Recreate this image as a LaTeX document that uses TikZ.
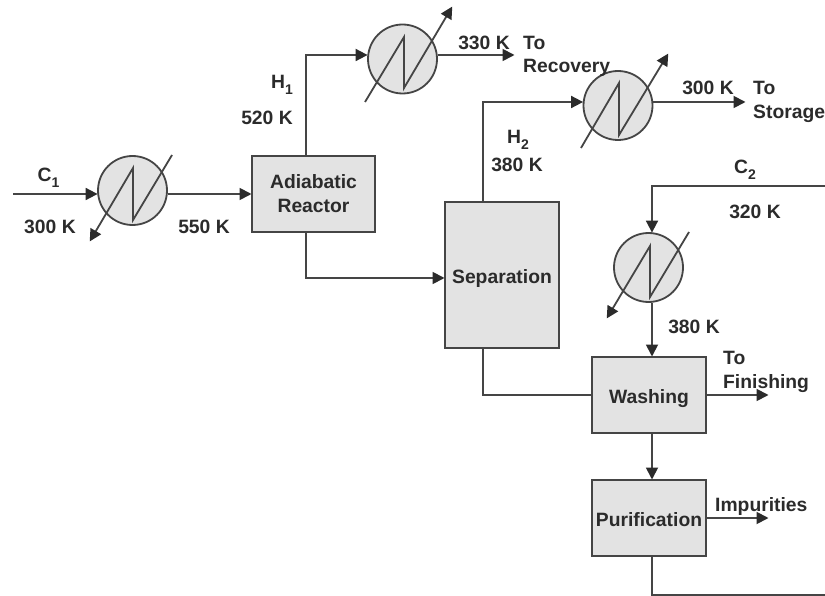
\documentclass[tikz,border=0pt]{standalone}
\usepackage{fontspec}
\setmainfont{Liberation Sans}
\usetikzlibrary{arrows.meta}
\definecolor{ink}{HTML}{2B2B2B}
\definecolor{wire}{HTML}{454545}
\definecolor{panel}{HTML}{E3E3E3}
\newcommand{\sbs}[1]{\raisebox{-5.5pt}{\fontsize{14}{15}\selectfont #1}}
\tikzset{
  wireline/.style={draw=wire,line width=1.8pt,line join=miter},
  flow/.style={wireline,-{Triangle[length=12pt,width=12pt,color=ink]},shorten >=-0.5pt},
  unitbox/.style={draw=wire,fill=panel,line width=2pt,inner sep=0pt,font=\fontsize{19.3}{24}\selectfont\bfseries,text=ink,align=center},
  hxshell/.style={circle,draw=wire,fill=panel,line width=1.8pt,minimum size=69pt,inner sep=0pt},
  lab/.style={inner sep=0pt,font=\fontsize{19.3}{23}\selectfont\bfseries,text=ink,text height=13.5pt,text depth=0pt},
}
\begin{document}
\begin{tikzpicture}[x=1pt,y=-1pt]
\useasboundingbox (0,0) rectangle (825,596);
\fill[white] (0,0) rectangle (825,596);
% units
\node[unitbox,minimum width=123pt,minimum height=76pt] (reactor) at (313.5,194) {Adiabatic\\Reactor};
\node[unitbox,minimum width=114pt,minimum height=146pt] (sep) at (502,275) {};
\node[inner sep=0pt,font=\fontsize{19.3}{24}\selectfont\bfseries,text=ink] (septext) at (502,279) {Separation};
\node[unitbox,minimum width=114pt,minimum height=76pt,text height=16pt,text depth=0pt] (wash) at (649,395) {Washing};
\node[unitbox,minimum width=114pt,minimum height=76pt,text height=17pt,text depth=0pt] (puri) at (649,518) {Purification};
% exchanger shells
\node[hxshell] (hx1) at (132.5,190.5) {};
\node[hxshell] (hx2) at (402.5,59) {};
\node[hxshell] (hx3) at (618,105.5) {};
\node[hxshell] (hx4) at (648.5,267.5) {};
% exchanger utility lines
\draw[flow] ([shift={(39.5,-35.5)}]hx1.center) -- ([shift={(0.5,29.5)}]hx1.center) -- ([shift={(0.5,-22.5)}]hx1.center) -- ([shift={(-42.5,50.5)}]hx1.center);
\draw[flow] ([shift={(-37.5,43)}]hx2.center) -- ([shift={(1.5,-22)}]hx2.center) -- ([shift={(1.5,29)}]hx2.center) -- ([shift={(49.5,-52)}]hx2.center);
\draw[flow] ([shift={(-37,42.5)}]hx3.center) -- ([shift={(1,-22.5)}]hx3.center) -- ([shift={(1,29.5)}]hx3.center) -- ([shift={(50,-51.5)}]hx3.center);
\draw[flow] ([shift={(40.5,-35.5)}]hx4.center) -- ([shift={(1.5,29.5)}]hx4.center) -- ([shift={(1.5,-21.5)}]hx4.center) -- ([shift={(-41.5,50.5)}]hx4.center);
% free ends
\coordinate (c1in) at (13,194);
\coordinate (h1out) at (514,55);
\coordinate (h2out) at (745,102);
\coordinate (c2in) at (825,186);
\coordinate (finish) at (768,395);
\coordinate (impout) at (768,518);
\coordinate (purout) at (825,595);
% connectors
\draw[flow] (c1in) -- (c1in -| hx1.west);
\draw[flow] (hx1.east |- reactor.west) -- (reactor.west);
\draw[flow] ([xshift=-7.5pt]reactor.north) |- (hx2.west |- h1out);
\draw[flow] (hx2.east |- h1out) -- (h1out);
\draw[flow] ([xshift=-7.5pt]reactor.south) |- (sep.west |- 0,278);
\draw[flow] ([xshift=-19pt]sep.north) |- (hx3.west |- h2out);
\draw[flow] (hx3.east |- h2out) -- (h2out);
\draw[flow] (c2in) -| ([xshift=3.5pt]hx4.north);
\draw[flow] ([xshift=3.5pt]hx4.south) -- ([xshift=3pt]wash.north);
\draw[wireline] ([xshift=-19pt]sep.south) |- (wash.west);
\draw[flow] (wash.east) -- (finish);
\draw[flow] ([xshift=3pt]wash.south) -- ([xshift=3pt]puri.north);
\draw[flow] (puri.east) -- (impout);
\draw[wireline] ([xshift=3pt]puri.south) |- (purout);
% labels
\node[lab] (lc1) at (48.5,175) {C\sbs{1}};
\node[lab] (l300a) at (50,227) {300 K};
\node[lab] (l550) at (204,227) {550 K};
\node[lab] (lh1) at (282,82) {H\sbs{1}};
\node[lab] (l520) at (267,118) {520 K};
\node[lab] (l330) at (484,43) {330 K};
\node[lab,anchor=west] (lto1) at (523,43) {To};
\node[lab,anchor=west] (lrec) at (523,66) {Recovery};
\node[lab] (l300b) at (708,88) {300 K};
\node[lab,anchor=west] (lto2) at (753,88) {To};
\node[lab,anchor=west] (lsto) at (753,112) {Storage};
\node[lab] (lh2) at (518,137) {H\sbs{2}};
\node[lab] (l380a) at (517,165) {380 K};
\node[lab] (lc2) at (745,167) {C\sbs{2}};
\node[lab] (l320) at (755,212) {320 K};
\node[lab] (l380b) at (694,327) {380 K};
\node[lab,anchor=west] (lto3) at (723,358) {To};
\node[lab,anchor=west] (lfin) at (723,382) {Finishing};
\node[lab,anchor=west] (limp) at (715,505) {Impurities};
\end{tikzpicture}
\end{document}
